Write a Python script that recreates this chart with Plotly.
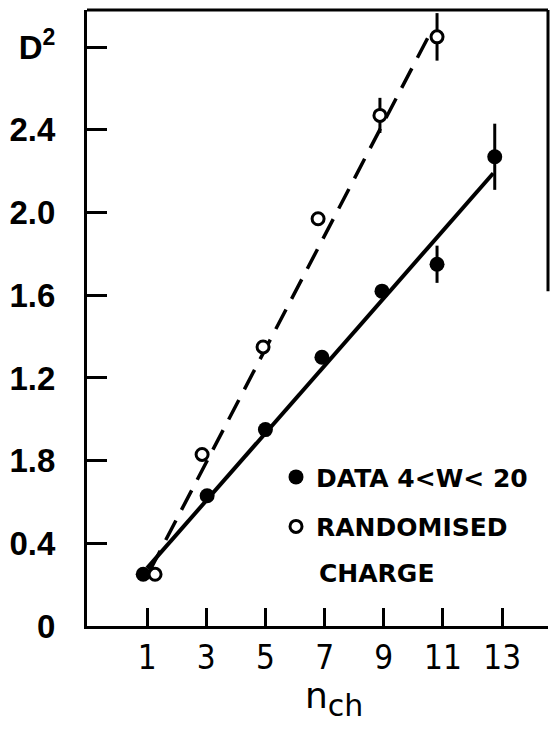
import plotly.graph_objects as go

# ---- data ----
data_x = [0.87, 3.03, 5.0, 6.91, 8.94, 10.8, 12.75]
data_y = [0.25, 0.63, 0.95, 1.30, 1.62, 1.75, 2.27]
data_err = [0, 0, 0, 0, 0.03, 0.09, 0.16]

rand_x = [1.27, 2.86, 4.92, 6.78, 8.87, 10.8]
rand_y = [0.25, 0.83, 1.35, 1.97, 2.47, 2.85]
rand_err = [0, 0, 0, 0, 0.085, 0.115]

fit_data_x = [1.0, 12.7]
fit_data_y = [0.28, 2.19]
fit_rand_x = [1.1, 10.65]
fit_rand_y = [0.27, 2.89]

x_ticks = [1, 3, 5, 7, 9, 11, 13]
y_ticks = [0, 0.4, 0.8, 1.2, 1.6, 2.0, 2.4, 2.8]
y_ticktext = ["0", "0.4", "1.8", "1.2", "1.6", "2.0", "2.4", "D<sup>2</sup>"]

fig = go.Figure()

fig.add_trace(go.Scatter(x=fit_data_x, y=fit_data_y, mode="lines",
                         line=dict(color="black", width=4), showlegend=False,
                         hoverinfo="skip"))
fig.add_trace(go.Scatter(x=fit_rand_x, y=fit_rand_y, mode="lines",
                         line=dict(color="black", width=3.5, dash="22px,12px"),
                         showlegend=False, hoverinfo="skip"))

fig.add_trace(go.Scatter(
    x=data_x, y=data_y, mode="markers", name="DATA 4&lt;W&lt; 20",
    legendgroup="a",
    marker=dict(symbol="circle", size=15, color="black",
                line=dict(color="black", width=0)),
    error_y=dict(type="data", array=data_err, visible=True, thickness=3,
                 width=0, color="black")))
fig.add_trace(go.Scatter(
    x=rand_x, y=rand_y, mode="markers", name="RANDOMISED",
    legendgroup="b",
    marker=dict(symbol="circle", size=12, color="white",
                line=dict(color="black", width=3)),
    error_y=dict(type="data", array=rand_err, visible=True, thickness=3,
                 width=0, color="black")))

axis_common = dict(showline=True, linewidth=3, linecolor="black",
                   ticks="inside", tickwidth=3, tickcolor="black",
                   showgrid=False, zeroline=False, mirror=False)

fig.update_xaxes(range=[-1.03, 14.55], tickvals=x_ticks, ticklen=18,
                 tickfont=dict(family="Liberation Sans Narrow, DejaVu Sans Condensed, Liberation Sans",
                               size=33, color="black"),
                 ticklabelstandoff=0, **axis_common)
fig.update_yaxes(range=[0, 2.98], tickvals=y_ticks, ticktext=y_ticktext,
                 ticklen=20,
                 tickfont=dict(family="Liberation Sans", size=33, color="black",
                               weight="bold"),
                 ticklabelstandoff=22, **axis_common)

fig.update_layout(
    width=550, height=730,
    margin=dict(l=87, r=2, t=10, b=104),
    paper_bgcolor="white", plot_bgcolor="white",
    showlegend=True,
    legend=dict(x=0.41, y=0.279, xanchor="left", yanchor="top",
                font=dict(family="DejaVu Sans", size=25, color="black",
                          weight="bold"),
                traceorder="grouped", tracegroupgap=14,
                bgcolor="rgba(0,0,0,0)", borderwidth=0),
    shapes=[
        dict(type="line", xref="x domain", yref="y domain", x0=0, x1=1,
             y0=1, y1=1, line=dict(color="black", width=3)),
        dict(type="line", xref="x domain", yref="y", x0=1, x1=1, y0=1.62,
             y1=2.98, line=dict(color="black", width=3)),
    ],
    annotations=[
        dict(text="CHARGE", xref="paper", yref="paper", x=0.499, y=0.086,
             xanchor="left", yanchor="middle", showarrow=False,
             font=dict(family="DejaVu Sans", size=25, color="black",
                       weight="bold")),
        dict(text="n<sub><span style='font-size:30px'>ch</span></sub>",
             xref="paper", yref="paper", x=0.535, y=-0.118,
             xanchor="center", yanchor="middle", showarrow=False,
             font=dict(family="DejaVu Sans", size=36, color="black")),
    ],
)

fig.write_html("out.html")
